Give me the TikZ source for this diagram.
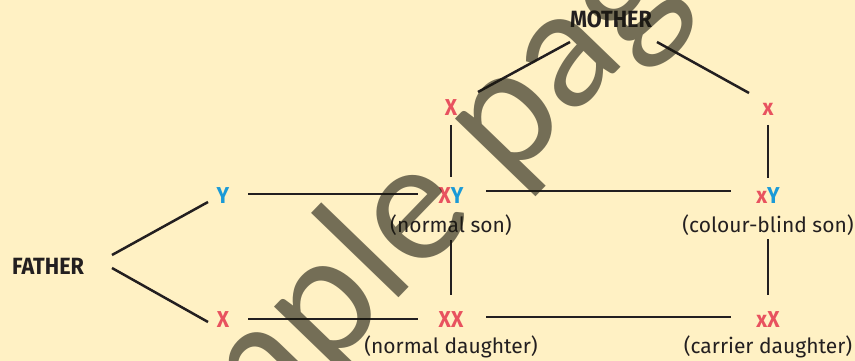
\documentclass[tikz,border=0pt]{standalone}
\usepackage{fontspec}
\setmainfont{Fira Sans}
\newfontfamily\condfont[FakeStretch=0.92]{Fira Sans}
\newfontfamily\wmfont{Lato}
\usetikzlibrary{calc}
\definecolor{bg}{RGB}{255,241,196}
\definecolor{ink}{RGB}{35,31,32}
\definecolor{xred}{RGB}{232,82,95}
\definecolor{yblue}{RGB}{26,154,215}
\definecolor{wm}{RGB}{24,23,13}
\newcommand{\Xr}{{\color{xred}X}}
\newcommand{\xr}{{\color{xred}x}}
\newcommand{\Yb}{{\color{yblue}Y}}
\begin{document}
\begin{tikzpicture}[x=1pt,y=-1pt,
  wire/.style={draw=ink, line width=2.5pt},
  parent/.style={inner sep=0pt, font=\condfont\fontsize{23.5}{23.5}\selectfont\bfseries, text=ink, text height=16pt, text depth=0pt},
  gene/.style={inner sep=0pt, font=\condfont\fontsize{23}{23}\selectfont\bfseries, text height=16pt, text depth=0pt},
  caption/.style={inner sep=0pt, font=\fontsize{21}{21}\selectfont, text=ink, text height=16pt, text depth=5pt},
  watermark/.style={inner sep=0pt, font=\wmfont\fontsize{165}{165}\selectfont, text=wm, opacity=0.6, rotate=46, anchor=base east}
]
\useasboundingbox (0,0) rectangle (855,361);
\fill[bg] (0,0) rectangle (855,361);
\begin{scope}
\clip (0,0) rectangle (855,361);
% parents
\node[parent] (M) at (611,20) {MOTHER};
\node[parent] (F) at (48,266) {FATHER};
% gametes
\node[gene] (Xm) at (451,107) {\Xr};
\node[gene] (xm) at (768,107) {\xr};
\node[gene] (Yf) at (223,195) {\Yb};
\node[gene] (Xf) at (223,319) {\Xr};
% offspring
\node[gene] (XY) at (451,195) {\Xr\Yb};
\node[gene] (xY) at (768,195) {\xr\Yb};
\node[gene] (XX) at (451,319) {\Xr\Xr};
\node[gene] (xX) at (768,319) {\xr\Xr};
\node[caption] (sonA) at (451,226.5) {(normal son)};
\node[caption] (sonB) at (768,226.5) {(colour-blind son)};
\node[caption] (dauA) at (451,347.5) {(normal daughter)};
\node[caption] (dauB) at (768,347.5) {(carrier daughter)};
% connectors
\draw[wire] ($(F)+(64,-11)$) -- ($(Yf)+(-15,7)$);
\draw[wire] ($(F)+(64,2)$) -- ($(Xf)+(-15,3)$);
\draw[wire] ($(M)+(-41,22)$) -- ($(Xm)+(27,-15)$);
\draw[wire] ($(M)+(46,22)$) -- ($(xm)+(-19,-14)$);
\draw[wire] ($(Yf)+(25,-1)$) -- ($(XY)+(-33,-1)$);
\draw[wire] ($(Xf)+(25,0)$) -- ($(XX)+(-33,0)$);
\draw[wire] ($(XY)+(35,-4)$) -- ($(xY)+(-37,-4)$);
\draw[wire] ($(XX)+(35,-2)$) -- ($(xX)+(-37,-2)$);
\draw[wire] ($(Xm)+(0,18)$) -- ($(XY)+(0,-18)$);
\draw[wire] ($(xm)+(0,18)$) -- ($(xY)+(0,-17)$);
\draw[wire] ($(sonA)+(0,13.5)$) -- ($(XX)+(0,-24)$);
\draw[wire] ($(sonB)+(0,12.5)$) -- ($(xX)+(0,-24)$);
% watermark
\node[watermark] (wmk) at (478,216) {Sample\rlap{\ page}};
\end{scope}
\end{tikzpicture}
\end{document}
